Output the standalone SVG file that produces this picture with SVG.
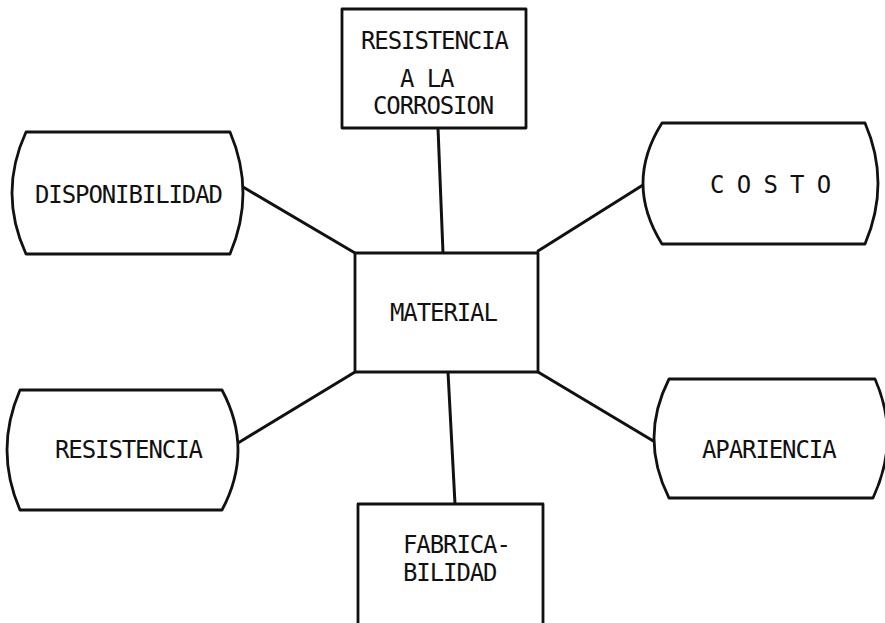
<svg xmlns="http://www.w3.org/2000/svg" width="885" height="623" viewBox="0 0 885 623">
<style>
.box{fill:#fff;stroke:#111;stroke-width:2.8;stroke-linejoin:round}
.ln{fill:none;stroke:#111;stroke-width:3;stroke-linecap:round}
text{font-family:"DejaVu Sans Mono","Liberation Mono",monospace;font-size:24px;letter-spacing:-1.1px;fill:#111}
</style>
<rect width="885" height="623" fill="#fff"/>
<g id="connectors">
<polyline class="ln" points="243,187 355,253"/>
<polyline class="ln" points="438,128 443,253"/>
<polyline class="ln" points="538,251 643,185"/>
<polyline class="ln" points="355,372 238,443"/>
<polyline class="ln" points="448,372 455,504"/>
<polyline class="ln" points="538,372 655,442"/>
</g>
<g id="material">
<rect class="box" x="355" y="253" width="183" height="119"/>
<text x="390" y="321">MATERIAL</text>
</g>
<g id="corrosion">
<rect class="box" x="342" y="9" width="184" height="119"/>
<text x="361" y="49">RESISTENCIA</text>
<text x="400" y="87">A LA</text>
<text x="373" y="114">CORROSION</text>
</g>
<g id="fabricabilidad">
<path class="box" d="M358,623 L358,504 L543,504 L543,623"/>
<text x="403" y="553">FABRICA-</text>
<text x="403" y="581">BILIDAD</text>
</g>
<g id="disponibilidad">
<path class="box" d="M26,132 L230,132 Q256,193 230,254 L26,254 Q-2,193 26,132 Z"/>
<text x="35" y="203">DISPONIBILIDAD</text>
</g>
<g id="costo">
<path class="box" d="M662,123 L865,123 Q891,183 865,244 L662,244 Q624,183 662,123 Z"/>
<text x="710" y="193">C O S T O</text>
</g>
<g id="resistencia">
<path class="box" d="M20,390 L222,390 Q254,450 222,510 L20,510 Q-6,450 20,390 Z"/>
<text x="55" y="458">RESISTENCIA</text>
</g>
<g id="apariencia">
<path class="box" d="M669,379 L875,379 Q901,438 873,498 L669,498 Q639,438 669,379 Z"/>
<text x="702" y="458">APARIENCIA</text>
</g>
</svg>
